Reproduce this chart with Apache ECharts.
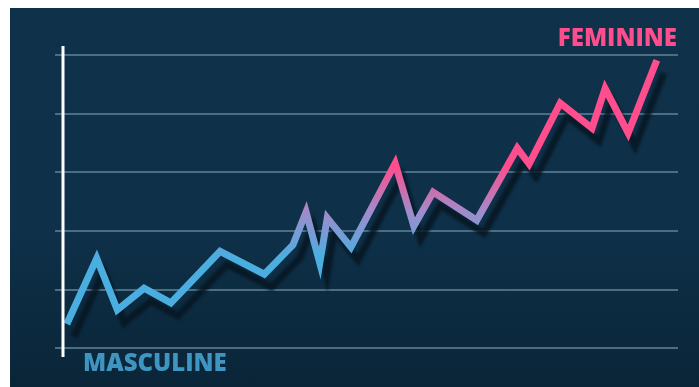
<!DOCTYPE html>
<html>
<head>
<meta charset="utf-8">
<script src="https://cdn.jsdelivr.net/npm/echarts@6/dist/echarts.min.js"></script>
<style>
html,body{margin:0;padding:0;background:#ffffff;}
#bg{position:absolute;left:10px;top:8px;width:689px;height:379px;background:linear-gradient(to bottom,#0f3149 0%,#0e3048 60%,#0a2538 100%);}
#chart{position:absolute;left:0;top:0;width:699px;height:387px;}
</style>
</head>
<body>
<div id="bg"></div>
<div id="chart"></div>
<script>
// x position along the timeline (0-100) and score (0 = masculine, 5 = feminine)
const xValues = [1.9, 6.7, 10.0, 14.3, 18.6, 26.5, 33.6, 38.2, 40.3, 42.5, 43.7, 47.5, 54.6, 57.6, 60.7, 67.7, 74.2, 76.1, 81.1, 86.2, 88.3, 92.0, 96.6];
const yValues = [0.41, 1.53, 0.65, 1.02, 0.77, 1.65, 1.26, 1.76, 2.32, 1.45, 2.22, 1.72, 3.15, 2.08, 2.66, 2.18, 3.41, 3.14, 4.18, 3.75, 4.43, 3.67, 4.91];
const topLabel = 'FEMININE';
const bottomLabel = 'MASCULINE';

const data = xValues.map((x, i) => [x, yValues[i]]);
const chart = echarts.init(document.getElementById('chart'), null, {renderer: 'canvas'});
chart.setOption({
  animation: false,
  backgroundColor: 'transparent',
  grid: {left: 55, right: 21, top: 55, bottom: 39},
  xAxis: {type: 'value', min: 0, max: 100, show: false, splitLine: {show: false}},
  yAxis: {
    type: 'value', min: 0, max: 5, interval: 1,
    axisLine: {show: false}, axisTick: {show: false}, axisLabel: {show: false},
    splitLine: {show: true, lineStyle: {color: '#4b6e84', width: 2}}
  },
  visualMap: {
    type: 'continuous', show: false, dimension: 1, seriesIndex: 0,
    min: 1.55, max: 3.1,
    inRange: {color: ['#4aaee0', '#a18ccb', '#ff4d8d']}
  },
  series: [{
    type: 'line',
    data: data,
    showSymbol: false,
    symbol: 'none',
    lineStyle: {
      width: 7, join: 'miter', miterLimit: 20, cap: 'butt',
      shadowColor: 'rgba(6,22,34,0.85)', shadowOffsetX: 7, shadowOffsetY: 13, shadowBlur: 3
    },
    z: 5
  }],
  graphic: [
    {type: 'line', shape: {x1: 63, y1: 46, x2: 63, y2: 357}, style: {stroke: '#ffffff', lineWidth: 3}, z: 10},
    {type: 'text', right: 22, top: 27, style: {text: topLabel, fill: '#ff4d8d', font: '800 24px "Open Sans", sans-serif'}, z: 10},
    {type: 'text', left: 83, top: 352, style: {text: bottomLabel, fill: '#3f95c2', font: '800 24px "Open Sans", sans-serif'}, z: 10}
  ]
});
</script>
</body>
</html>
